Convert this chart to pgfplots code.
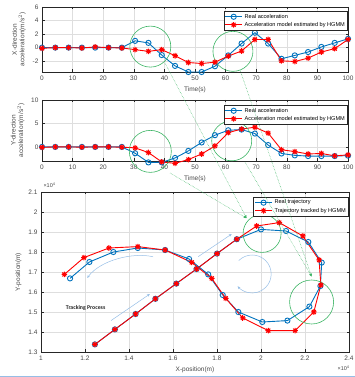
\documentclass[border=0pt]{standalone}
\usepackage{fontspec}
\setmainfont{Liberation Sans}
\newfontfamily\carlito{Carlito}
\usepackage{pgfplots}
\pgfplotsset{compat=1.18}
\usetikzlibrary{arrows.meta}
\definecolor{mblue}{rgb}{0,0.447,0.741}
\definecolor{mred}{rgb}{1,0,0}
\definecolor{mgreen}{RGB}{60,180,100}
\definecolor{lblue}{RGB}{150,190,230}
\definecolor{gridc}{RGB}{222,222,222}
\definecolor{axc}{RGB}{38,38,38}
\pgfdeclareplotmark{mstar}{%
 \pgfpathmoveto{\pgfpoint{-\pgfplotmarksize}{0pt}}\pgfpathlineto{\pgfpoint{\pgfplotmarksize}{0pt}}%
 \pgfpathmoveto{\pgfpoint{0pt}{-\pgfplotmarksize}}\pgfpathlineto{\pgfpoint{0pt}{\pgfplotmarksize}}%
 \pgfpathmoveto{\pgfpoint{-0.707\pgfplotmarksize}{-0.707\pgfplotmarksize}}\pgfpathlineto{\pgfpoint{0.707\pgfplotmarksize}{0.707\pgfplotmarksize}}%
 \pgfpathmoveto{\pgfpoint{-0.707\pgfplotmarksize}{0.707\pgfplotmarksize}}\pgfpathlineto{\pgfpoint{0.707\pgfplotmarksize}{-0.707\pgfplotmarksize}}%
 \pgfusepathqstroke}
\pgfplotsset{
 mstyle/.style={
   scale only axis, width=306pt,
   axis line style={axc, line width=0.8pt},
   tick style={axc, line width=0.5pt}, tick align=inside, major tick length=2.5pt,
   grid=major, grid style={gridc, line width=0.4pt},
   ticklabel style={font=\fontsize{6.5}{7}\selectfont, text=axc!85},
   label style={font=\fontsize{6.5}{7.5}\selectfont, text=axc!85},
   /pgf/number format/assume math mode=true,
   legend style={font=\fontsize{5.6}{6}\selectfont, draw=axc, line width=0.6pt, inner sep=0.8pt, row sep=-1.5pt, cells={anchor=west}},
   legend cell align=left,
   clip=false,
 },
 bl/.style={mblue, line width=0.9pt, mark=o, mark size=2.6pt, mark options={line width=0.9pt}},
 rd/.style={mred, line width=0.9pt, mark=mstar, mark size=2.8pt, mark options={line width=1pt}},
}
\begin{document}
\begin{tikzpicture}
\useasboundingbox (0,0) rectangle (355pt,377pt);
% ---------- top axis ----------
\begin{axis}[mstyle, at={(42pt,305pt)}, anchor=south west, height=65pt,
  xmin=0, xmax=100, ymin=-3.6, ymax=6,
  xtick={0,10,...,100}, ytick={-2,0,2,4,6},
  xlabel={Time(s)}, ylabel={X-direction\\acceleration(m/s$^2$)}, ylabel style={align=center},
  legend style={at={(1,0.94)}, anchor=north east}]
\addplot[bl] coordinates {(0,0) (4.35,0) (8.7,0) (13.04,0) (17.39,0) (21.74,0) (26.09,0) (30.43,1.0) (34.78,0.7) (39.13,-1.1) (43.48,-2.7) (47.83,-3.6) (52.17,-3.6) (56.52,-2.75) (60.87,-1.15) (65.22,0.6) (69.57,2.2) (73.91,0.6) (78.26,-1.65) (82.61,-1.15) (86.96,-0.65) (91.3,0.1) (95.65,0.7) (100,1.3)};
\addlegendentry{Real acceleration}
\addplot[rd] coordinates {(0,-0.1) (4.35,0) (8.7,0) (13.04,-0.05) (17.39,0.1) (21.74,0) (26.09,-0.05) (30.43,-0.3) (34.78,-0.55) (39.13,-0.3) (43.48,-1.2) (47.83,-2.2) (52.17,-2.35) (56.52,-2.15) (60.87,-1.25) (65.22,-0.5) (69.57,1.2) (73.91,1.2) (78.26,-1.95) (82.61,-2.05) (86.96,-1.55) (91.3,-0.65) (95.65,-0.15) (100,1.2)};
\addlegendentry{Acceleration model estimated by HGMM}
\node[circle, draw=mgreen, line width=0.6pt, minimum size=41pt, inner sep=0pt] (c1) at (axis cs:35.4,0.15) {};
\node[circle, draw=mgreen, line width=0.6pt, minimum size=40pt, inner sep=0pt] (c2) at (axis cs:62.4,-0.55) {};
\end{axis}
% ---------- middle axis ----------
\begin{axis}[mstyle, at={(42pt,216pt)}, anchor=south west, height=61pt,
  xmin=0, xmax=100, ymin=-3, ymax=10,
  xtick={0,10,...,100}, ytick={0,5,10},
  xlabel={Time(s)}, ylabel={Y-direction\\acceleration(m/s$^2$)}, ylabel style={align=center},
  legend style={at={(1,0.92)}, anchor=north east}]
\addplot[bl] coordinates {(0,0) (4.35,0) (8.7,0) (13.04,0) (17.39,0) (21.74,0) (26.09,0) (30.43,-1.35) (34.78,-3.3) (39.13,-3.3) (43.48,-2.35) (47.83,-0.85) (52.17,0.95) (56.52,2.5) (60.87,3.55) (65.22,3.7) (69.57,2.85) (73.91,0.4) (78.26,-1.4) (82.61,-1.8) (86.96,-1.95) (91.3,-1.95) (95.65,-1.95) (100,-1.85)};
\addlegendentry{Real acceleration}
\addplot[rd] coordinates {(0,-0.1) (4.35,0) (8.7,0) (13.04,-0.05) (17.39,0) (21.74,0) (26.09,-0.05) (30.43,-0.2) (34.78,-1.2) (39.13,-3.2) (43.48,-3.5) (47.83,-2.7) (52.17,-1.5) (56.52,0.2) (60.87,3.05) (65.22,3.8) (69.57,4.2) (73.91,2.95) (78.26,-0.6) (82.61,-1.0) (86.96,-1.5) (91.3,-1.4) (95.65,-1.9) (100,-1.7)};
\addlegendentry{Acceleration model estimated by HGMM}
\node[circle, draw=mgreen, line width=0.6pt, minimum size=42pt, inner sep=0pt] (c3) at (axis cs:35.4,-0.95) {};
\node[circle, draw=mgreen, line width=0.6pt, minimum size=40pt, inner sep=0pt] (c4) at (axis cs:62,1.3) {};
\end{axis}
% ---------- bottom axis ----------
\begin{axis}[mstyle, at={(41pt,25pt)}, anchor=south west, width=308pt, height=160pt,
  xmin=1, xmax=2.4, ymin=1.3, ymax=2.1,
  xtick={1,1.2,...,2.41}, ytick={1.3,1.4,...,2.11},
  xlabel={X-position(m)}, ylabel={Y-position(m)},
  legend style={at={(1,0.97)}, anchor=north east}]
\addplot[bl] coordinates {(1.245,1.338) (1.336,1.413) (1.43,1.49) (1.52,1.566) (1.615,1.642) (1.707,1.715) (1.80,1.792) (1.89,1.864) (2.0,1.913) (2.114,1.905) (2.215,1.85) (2.276,1.747) (2.27,1.63) (2.22,1.527) (2.12,1.457) (2.006,1.45) (1.897,1.50) (1.826,1.585) (1.76,1.688) (1.673,1.765) (1.564,1.81) (1.44,1.82) (1.329,1.80) (1.22,1.75) (1.132,1.668)};
\addlegendentry{Real trajectory}
\addplot[rd] coordinates {(1.245,1.338) (1.336,1.413) (1.43,1.49) (1.52,1.566) (1.615,1.642) (1.707,1.715) (1.80,1.792) (1.89,1.864) (1.98,1.93) (2.083,1.947) (2.19,1.88) (2.264,1.76) (2.272,1.635) (2.24,1.50) (2.155,1.407) (2.033,1.407) (1.917,1.47) (1.84,1.568) (1.776,1.668) (1.685,1.748) (1.564,1.81) (1.44,1.827) (1.309,1.82) (1.195,1.772) (1.106,1.688)};
\addlegendentry{Trajectory tracked by HGMM}
\node[circle, draw=mgreen, line width=0.6pt, minimum size=38pt, inner sep=0pt] (cA) at (axis cs:2.005,1.893) {};
\node[circle, draw=mgreen, line width=0.6pt, minimum size=44pt, inner sep=0pt] (cB) at (axis cs:2.23,1.55) {};
\draw[lblue, line width=0.5pt, -{Stealth[length=3pt,width=2.5pt]}] (axis cs:1.318,1.457) -- (axis cs:1.495,1.59);
\draw[lblue, line width=0.5pt, -{Stealth[length=3pt,width=2.5pt]}] (axis cs:1.715,1.777) -- (axis cs:1.867,1.89);
\draw[lblue, line width=0.5pt, -{Stealth[length=3pt,width=2.5pt]}] (axis cs:1.51,1.776) .. controls (axis cs:1.42,1.80) and (axis cs:1.27,1.76) .. (axis cs:1.21,1.67);
\draw[lblue, line width=0.5pt, -{Stealth[length=3pt,width=2.5pt]}] ([shift={(135:19pt)}]axis cs:1.96,1.69) arc[start angle=135, end angle=-140, radius=19pt];
\node[font=\carlito\bfseries\fontsize{5.8}{6}\selectfont, text=axc] at (axis cs:1.203,1.52) {Tracking Process};
\end{axis}
% multipliers
\node[font=\fontsize{5.5}{6}\selectfont, text=axc!85, anchor=south west] at (40pt,186pt) {×10\textsuperscript{4}};
\node[font=\fontsize{5.5}{6}\selectfont, text=axc!85, anchor=west] at (334pt,9pt) {×10\textsuperscript{4}};
% green connector lines
\draw[mgreen, densely dotted, line width=0.5pt, -{Latex[length=3pt,width=2.5pt]}] (165pt,314pt) -- (246.7pt,158.7pt);
\draw[mgreen, densely dotted, line width=0.5pt, -{Latex[length=3pt,width=2.5pt]}] (170pt,204pt) -- (246.7pt,158.7pt);
\draw[mgreen, densely dotted, line width=0.5pt, -{Latex[length=3pt,width=2.5pt]}] (240pt,307pt) -- (311.7pt,100.3pt);
\draw[mgreen, densely dotted, line width=0.5pt, -{Latex[length=3pt,width=2.5pt]}] (245pt,215pt) -- (311.7pt,100.3pt);
% separator
\draw[lblue, line width=0.6pt] (0,0.6pt) -- (355pt,0.6pt);
\end{tikzpicture}
\end{document}
